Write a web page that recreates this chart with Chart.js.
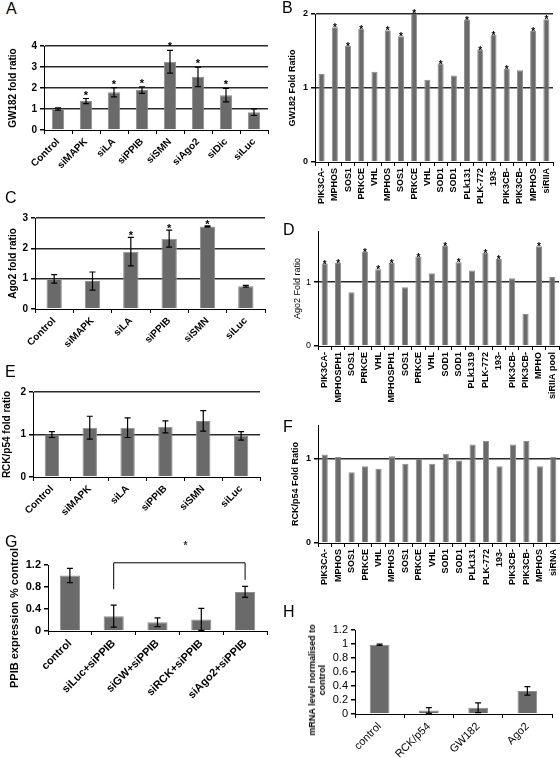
<!DOCTYPE html>
<html lang="en">
<head>
<meta charset="UTF-8">
<title>Fold ratios</title>
<script src="https://cdn.jsdelivr.net/npm/chart.js@4.4.0/dist/chart.umd.min.js"></script>
<style>
  body { margin: 0; background: #fff; }
  #fig { position: relative; width: 560px; height: 758px; overflow: hidden; font-family: "Liberation Sans", Arial, sans-serif; }
  canvas { position: absolute; }
  .lbl { position: absolute; font-size: 16px; line-height: 16px; color: #000; }
  .ytitle { position: absolute; transform: translate(-50%, -50%) rotate(-90deg); white-space: nowrap; font-weight: bold; color: #000; text-align: center; }
</style>
</head>
<body>
<div id="fig">
  <canvas id="chA" width="280" height="150" style="left:0;top:30px"></canvas>
  <canvas id="chB" width="280" height="220" style="left:280px;top:0"></canvas>
  <canvas id="chC" width="280" height="160" style="left:0;top:200px"></canvas>
  <canvas id="chD" width="280" height="190" style="left:280px;top:220px"></canvas>
  <canvas id="chE" width="280" height="140" style="left:0;top:380px"></canvas>
  <canvas id="chF" width="280" height="185" style="left:280px;top:415px"></canvas>
  <canvas id="chG" width="280" height="170" style="left:0;top:540px"></canvas>
  <canvas id="chH" width="280" height="148" style="left:280px;top:610px"></canvas>

  <div class="lbl" style="left:6px;top:1px">A</div>
  <div class="lbl" style="left:282px;top:0">B</div>
  <div class="lbl" style="left:5px;top:190px">C</div>
  <div class="lbl" style="left:283px;top:222px">D</div>
  <div class="lbl" style="left:5px;top:364px">E</div>
  <div class="lbl" style="left:283px;top:419px">F</div>
  <div class="lbl" style="left:5px;top:534px">G</div>
  <div class="lbl" style="left:283px;top:604px">H</div>

  <!-- these two titles are longer than their plot, so they sit outside the canvas -->
  <div class="ytitle" style="left:14px;top:618px;font-size:11px">PPIB expression % control</div>
  <div class="ytitle" style="left:317px;top:680px;font-size:9px;line-height:10px">mRNA level normalised to<br>control</div>
</div>

<script>
// panel A
var aCats = ['Control', 'siMAPK', 'siLA', 'siPPIB', 'siSMN', 'siAgo2', 'siDic', 'siLuc'];
var aVals = [1.0, 1.38, 1.8, 1.9, 3.25, 2.53, 1.66, 0.85];
var aErr = [0.05, 0.12, 0.22, 0.16, 0.54, 0.46, 0.32, 0.16];
var aStar = [0, 1, 1, 1, 1, 1, 1, 0];

// panel B
var bCats = ['PIK3CA-', 'MPHOS', 'SOS1', 'PRKCE', 'VHL', 'MPHOS', 'SOS1', 'PRKCE', 'VHL',
  'SOD1', 'SOD1', 'PLk131', 'PLK-772', '193-', 'PIK3CB-', 'PIK3CB-', 'MPHOS', 'siRIIA'];
var bVals = [1.19, 1.82, 1.57, 1.80, 1.22, 1.78, 1.70, 2.02, 1.11, 1.33, 1.17, 1.92, 1.52, 1.72, 1.26, 1.24, 1.77, 1.93];
var bStar = [0, 1, 1, 1, 0, 1, 1, 1, 0, 1, 0, 1, 1, 1, 1, 0, 1, 1];

// panel C
var cCats = ['Control', 'siMAPK', 'siLA', 'siPPIB', 'siSMN', 'siLuc'];
var cVals = [0.99, 0.92, 1.89, 2.32, 2.72, 0.75];
var cErr = [0.14, 0.3, 0.47, 0.28, 0.02, 0.03];
var cStar = [0, 0, 1, 1, 1, 0];

// panel D
var dCats = ['PIK3CA-', 'MPHOSPH1', 'SOS1', 'PRKCE', 'VHL', 'MPHOSPH1', 'SOS1', 'PRKCE', 'VHL',
  'SOD1', 'SOD1', 'PLk1319', 'PLK-772', '193-', 'PIK3CB-', 'PIK3CB-', 'MPHO', 'siRIIA pool'];
var dVals = [1.29, 1.30, 0.84, 1.47, 1.20, 1.30, 0.92, 1.40, 1.14, 1.57, 1.31, 1.18, 1.46, 1.36, 1.06, 0.50, 1.56, 1.08];
var dStar = [1, 1, 0, 1, 1, 1, 0, 1, 0, 1, 1, 0, 1, 1, 0, 0, 1, 0];

// panel E
var eCats = ['Control', 'siMAPK', 'siLA', 'siPPIB', 'siSMN', 'siLuc'];
var eVals = [1.0, 1.16, 1.16, 1.18, 1.32, 0.97];
var eErr = [0.07, 0.27, 0.23, 0.14, 0.24, 0.1];

// panel F
var fCats = ['PIK3CA-', 'MPHOS', 'SOS1', 'PRKCE', 'VHL', 'MPHOS', 'SOS1', 'PRKCE', 'VHL',
  'SOD1', 'SOD1', 'PLk131', 'PLK-772', '193-', 'PIK3CB-', 'PIK3CB-', 'MPHOS', 'siRNA'];
var fVals = [1.05, 1.02, 0.84, 0.91, 0.88, 1.03, 0.94, 1.0, 0.94, 1.06, 0.98, 1.17, 1.21, 0.91, 1.17, 1.21, 0.91, 1.02];

// panel G
var gCats = ['control', 'siLuc+siPPIB', 'siGW+siPPIB', 'siRCK+siPPIB', 'siAgo2+siPPIB'];
var gVals = [1.01, 0.27, 0.16, 0.21, 0.71];
var gErr = [0.13, 0.2, 0.08, 0.2, 0.1];

// panel H
var hCats = ['control', 'RCK/p54', 'GW182', 'Ago2'];
var hVals = [0.99, 0.05, 0.09, 0.33];
var hErr = [0.01, 0.04, 0.07, 0.06];

// error bars, stars and the bracket in G
var marks = {
  id: 'marks',
  afterDatasetsDraw: function(chart, args, opts) {
    var ctx = chart.ctx, ys = chart.scales.y, xs = chart.scales.x;
    var bars = chart.getDatasetMeta(0).data;
    var vals = chart.data.datasets[0].data;
    ctx.save();
    ctx.strokeStyle = '#000';
    ctx.fillStyle = '#000';
    ctx.lineWidth = 1.2;
    bars.forEach(function(b, i) {
      var e = opts.err ? opts.err[i] : 0;
      if (e) {
        var y1 = ys.getPixelForValue(vals[i] - e), y2 = ys.getPixelForValue(vals[i] + e);
        ctx.beginPath();
        ctx.moveTo(b.x, y1); ctx.lineTo(b.x, y2);
        ctx.moveTo(b.x - 3, y1); ctx.lineTo(b.x + 3, y1);
        ctx.moveTo(b.x - 3, y2); ctx.lineTo(b.x + 3, y2);
        ctx.stroke();
      }
      if (opts.stars && opts.stars[i]) {
        var top = ys.getPixelForValue(vals[i] + e);
        ctx.font = opts.starFont;
        ctx.textAlign = 'center';
        ctx.textBaseline = 'alphabetic';
        ctx.fillText('*', b.x, top + opts.starOff);
      }
    });
    var br = opts.bracket;
    if (br) {
      var xl = xs.getPixelForValue(br.from), xr = xs.getPixelForValue(br.to);
      ctx.lineWidth = 1;
      ctx.beginPath();
      ctx.moveTo(xl, ys.getPixelForValue(br.leftEnd));
      ctx.lineTo(xl, ys.getPixelForValue(br.top));
      ctx.lineTo(xr, ys.getPixelForValue(br.top));
      ctx.lineTo(xr, ys.getPixelForValue(br.rightEnd));
      ctx.stroke();
      ctx.fillStyle = '#333';
      ctx.font = 'bold 10px "Liberation Sans", Arial';
      ctx.textAlign = 'center';
      ctx.fillText('*', (xl + xr) / 2 + 6, ys.getPixelForValue(br.star));
    }
    ctx.restore();
  }
};

function fmt(v) { return String(+v.toFixed(1)); }

function panel(id, cats, vals, o) {
  var lines = o.lines || [];
  return new Chart(document.getElementById(id), {
    type: 'bar',
    data: {
      labels: cats,
      datasets: [{
        data: vals,
        backgroundColor: '#6a6a6a',
        borderColor: '#8e8e8e',
        borderWidth: 1,
        barPercentage: o.bar,
        categoryPercentage: 1
      }]
    },
    options: {
      responsive: false,
      animation: false,
      layout: { padding: { top: o.pt, right: o.pr, left: 0, bottom: 0 } },
      plugins: {
        legend: { display: false },
        tooltip: { enabled: false },
        marks: { err: o.err, stars: o.stars, starFont: o.starFont || 'bold 11px "Liberation Sans", Arial', starOff: o.starOff || 0, bracket: o.bracket }
      },
      scales: {
        x: {
          grid: { drawOnChartArea: false, color: '#000', tickLength: 4, offset: true },
          border: { color: '#000', width: 1 },
          ticks: { color: '#000', font: o.xfont, minRotation: o.rot, maxRotation: o.rot, autoSkip: false, padding: 2 },
          afterFit: function(s) { s.height = o.xh; s.paddingLeft = 0; s.paddingRight = 0; }
        },
        y: {
          min: 0,
          max: o.max,
          ticks: { stepSize: o.step, color: '#000', font: o.yfont, padding: 3, autoSkip: false, includeBounds: false, callback: fmt },
          grid: {
            color: function(c) { return lines.indexOf(c.tick.value) >= 0 ? '#2a2a2a' : 'rgba(0,0,0,0)'; },
            lineWidth: 1.5,
            tickColor: '#000',
            tickLength: 4
          },
          border: { color: '#000', width: 1 },
          title: { display: !!o.title, text: o.title || '', font: o.tfont, color: '#000', padding: { top: o.tp || 0, bottom: 0 } },
          afterFit: function(s) { s.width = o.yw; s.paddingTop = 0; s.paddingBottom = 0; }
        }
      }
    },
    plugins: [marks]
  });
}

var F = '"Liberation Sans", Arial, sans-serif';

panel('chA', aCats, aVals, {
  bar: 0.44, pt: 16, pr: 12, xh: 50, yw: 44, max: 4, step: 1, lines: [1, 2, 3, 4], rot: 45,
  xfont: { family: F, size: 10, weight: 'bold' }, yfont: { family: F, size: 10, weight: 'bold' },
  title: 'GW182 fold ratio', tfont: { family: F, size: 10, weight: 'bold' }, tp: 7,
  err: aErr, stars: aStar, starOff: 0
});

panel('chB', bCats, bVals, {
  bar: 0.46, pt: 14, pr: 7, xh: 58, yw: 35, max: 2, step: 1, lines: [1, 2], rot: 90,
  xfont: { family: F, size: 9, weight: 'bold', lineHeight: 1 }, yfont: { family: F, size: 9, weight: 'bold' },
  title: 'GW182 Fold Ratio', tfont: { family: F, size: 9, weight: 'bold' }, tp: 7,
  stars: bStar, starFont: 'bold 10px ' + F, starOff: 4
});

panel('chC', cCats, cVals, {
  bar: 0.4, pt: 18, pr: 15, xh: 51, yw: 35, max: 3, step: 1, lines: [1, 2, 3], rot: 45,
  xfont: { family: F, size: 10, weight: 'bold' }, yfont: { family: F, size: 10, weight: 'bold' },
  title: 'Ago2 fold ratio', tfont: { family: F, size: 10, weight: 'bold' }, tp: 7,
  err: cErr, stars: cStar, starOff: 2
});

panel('chD', dCats, dVals, {
  bar: 0.46, pt: 11, pr: 1, xh: 64, yw: 38, max: 1.8, step: 1, lines: [1], rot: 90,
  xfont: { family: F, size: 9, weight: 'bold', lineHeight: 1 }, yfont: { family: F, size: 9 },
  title: 'Ago2 Fold ratio', tfont: { family: F, size: 9 }, tp: 12,
  stars: dStar, starFont: 'bold 10px ' + F, starOff: 4
});

panel('chE', eCats, eVals, {
  bar: 0.38, pt: 12, pr: 20, xh: 43, yw: 33, max: 2, step: 1, lines: [1, 2], rot: 45,
  xfont: { family: F, size: 10, weight: 'bold' }, yfont: { family: F, size: 10, weight: 'bold' },
  title: 'RCK/p54 fold ratio', tfont: { family: F, size: 10, weight: 'bold' }, tp: 1,
  err: eErr
});

panel('chF', fCats, fVals, {
  bar: 0.46, pt: 10, pr: 0, xh: 57, yw: 38, max: 1.4, step: 1, lines: [1], rot: 90,
  xfont: { family: F, size: 9, weight: 'bold', lineHeight: 1 }, yfont: { family: F, size: 9, weight: 'bold' },
  title: 'RCK/p54 Fold Ratio', tfont: { family: F, size: 9, weight: 'bold' }, tp: 10
});

panel('chG', gCats, gVals, {
  bar: 0.46, pt: 25, pr: 13, xh: 79, yw: 48, max: 1.2, step: 0.4, lines: [], rot: 45,
  xfont: { family: F, size: 11, weight: 'bold' }, yfont: { family: F, size: 11, weight: 'bold' },
  err: gErr,
  bracket: { from: 1, to: 4, top: 1.24, leftEnd: 0.76, rightEnd: 0.93, star: 1.5 }
});

panel('chH', hCats, hVals, {
  bar: 0.4, pt: 20, pr: 8, xh: 44, yw: 75, max: 1.2, step: 0.2, lines: [], rot: 45,
  xfont: { family: F, size: 11 }, yfont: { family: F, size: 11 },
  err: hErr
});
</script>
</body>
</html>
